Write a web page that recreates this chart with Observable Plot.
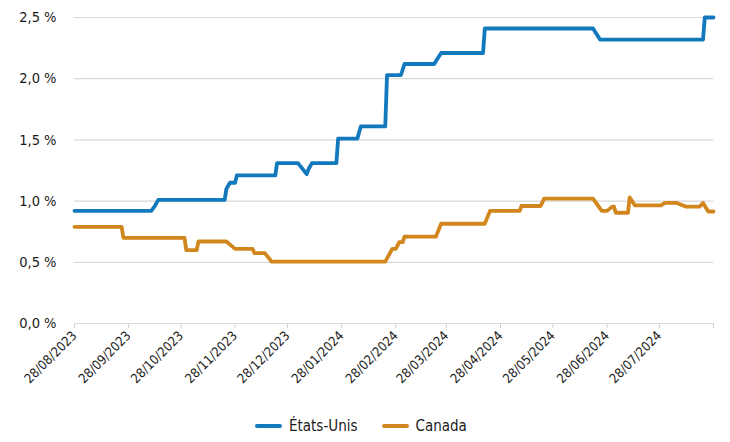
<!DOCTYPE html>
<html>
<head>
<meta charset="utf-8">
<script src="https://cdn.jsdelivr.net/npm/d3@7"></script>
<script src="https://cdn.jsdelivr.net/npm/@observablehq/plot@0.6"></script>
<style>
  body { margin: 0; background: #fff; font-family: "DejaVu Sans Condensed", "DejaVu Sans", sans-serif; font-stretch: condensed; }
  #chart svg { display: block; font-stretch: condensed; }
  #chart svg text { font-stretch: condensed; }
  .legend { display: flex; align-items: center; padding-left: 255px; height: 42px; padding-top: 9px; box-sizing: border-box; font-size: 15px; color: #1a1a1a; }
  .legend .item { display: flex; align-items: center; margin-right: 24px; }
  .legend .sw { width: 27px; height: 4px; border-radius: 2px; margin-right: 7px; }
</style>
</head>
<body>
<div id="chart"></div>
<div class="legend" id="legend"></div>
<script>
const seriesNames = ["États-Unis", "Canada"];
const seriesColors = ["#1279BD", "#D1871D"];

const usDates = ["2023-08-28","2023-10-11","2023-10-13","2023-10-15","2023-11-22","2023-11-23","2023-11-25","2023-11-28","2023-11-29","2023-12-21","2023-12-22","2024-01-03","2024-01-08","2024-01-09","2024-01-11","2024-01-25","2024-01-26","2024-02-06","2024-02-07","2024-02-08","2024-02-22","2024-02-23","2024-03-02","2024-03-04","2024-03-21","2024-03-25","2024-04-18","2024-04-19","2024-06-20","2024-06-24","2024-08-22","2024-08-23","2024-08-28"];
const usValues = [0.92,0.92,0.96,1.01,1.01,1.10,1.15,1.15,1.21,1.21,1.31,1.31,1.22,1.26,1.31,1.31,1.51,1.51,1.56,1.61,1.61,2.03,2.03,2.12,2.12,2.21,2.21,2.41,2.41,2.32,2.32,2.50,2.50];

const caDates = ["2023-08-28","2023-09-24","2023-09-25","2023-10-30","2023-10-31","2023-11-06","2023-11-07","2023-11-23","2023-11-28","2023-12-08","2023-12-09","2023-12-15","2023-12-19","2024-02-22","2024-02-26","2024-02-28","2024-03-01","2024-03-03","2024-03-04","2024-03-22","2024-03-25","2024-04-19","2024-04-22","2024-05-09","2024-05-10","2024-05-21","2024-05-23","2024-06-20","2024-06-25","2024-06-28","2024-07-01","2024-07-02","2024-07-03","2024-07-10","2024-07-11","2024-07-14","2024-07-29","2024-07-31","2024-08-07","2024-08-12","2024-08-20","2024-08-22","2024-08-25","2024-08-28"];
const caValues = [0.79,0.79,0.70,0.70,0.60,0.60,0.67,0.67,0.61,0.61,0.575,0.575,0.505,0.505,0.61,0.61,0.665,0.665,0.71,0.71,0.815,0.815,0.92,0.92,0.96,0.96,1.02,1.02,0.92,0.92,0.955,0.955,0.905,0.905,1.03,0.965,0.965,0.985,0.985,0.955,0.955,0.985,0.915,0.915];

const xTickDates = ["2023-08-28","2023-09-28","2023-10-28","2023-11-28","2023-12-28","2024-01-28","2024-02-28","2024-03-28","2024-04-28","2024-05-28","2024-06-28","2024-07-28","2024-08-28"];
const xTickLabels = ["28/08/2023","28/09/2023","28/10/2023","28/11/2023","28/12/2023","28/01/2024","28/02/2024","28/03/2024","28/04/2024","28/05/2024","28/06/2024","28/07/2024",""];
const yTicks = [0, 0.5, 1.0, 1.5, 2.0, 2.5];

const parse = d3.utcParse("%Y-%m-%d");
const rows = [
  ...usDates.map((d, i) => ({date: parse(d), value: usValues[i], series: seriesNames[0]})),
  ...caDates.map((d, i) => ({date: parse(d), value: caValues[i], series: seriesNames[1]}))
];
const tickDates = xTickDates.map(parse);
const labelOf = new Map(tickDates.map((d, i) => [+d, xTickLabels[i]]));

const font = '"DejaVu Sans Condensed", "DejaVu Sans", sans-serif';

const chart = Plot.plot({
  width: 730,
  height: 400,
  marginTop: 17,
  marginBottom: 77,
  marginLeft: 74,
  marginRight: 17,
  style: {fontFamily: font, color: "#1a1a1a", background: "#fff"},
  x: {type: "utc", domain: [tickDates[0], tickDates[tickDates.length - 1]]},
  y: {domain: [0, 2.5]},
  color: {domain: seriesNames, range: seriesColors},
  marks: [
    Plot.gridY(yTicks, {stroke: "#d9d9d9", strokeOpacity: 1, strokeWidth: 1.2}),
    Plot.axisY(yTicks, {
      tickSize: 0, tickPadding: 18, fontSize: 14.5,
      tickFormat: d => d.toFixed(1).replace(".", ",") + "\u00a0%",
      label: null
    }),
    Plot.axisX(tickDates, {
      tickSize: 5, stroke: "#d0d0d0", tickPadding: 5, tickRotate: -45, fontSize: 13,
      tickFormat: d => labelOf.get(+d), label: null
    }),
    Plot.ruleY([0], {stroke: "#d9d9d9", strokeWidth: 1.2}),
    Plot.line(rows, {x: "date", y: "value", z: "series", stroke: "series", strokeWidth: 3.8})
  ]
});
document.getElementById("chart").append(chart);

const legend = document.getElementById("legend");
seriesNames.forEach((name, i) => {
  const item = document.createElement("div");
  item.className = "item";
  const sw = document.createElement("span");
  sw.className = "sw";
  sw.style.background = seriesColors[i];
  const t = document.createElement("span");
  t.textContent = name;
  item.append(sw, t);
  legend.append(item);
});
</script>
</body>
</html>
